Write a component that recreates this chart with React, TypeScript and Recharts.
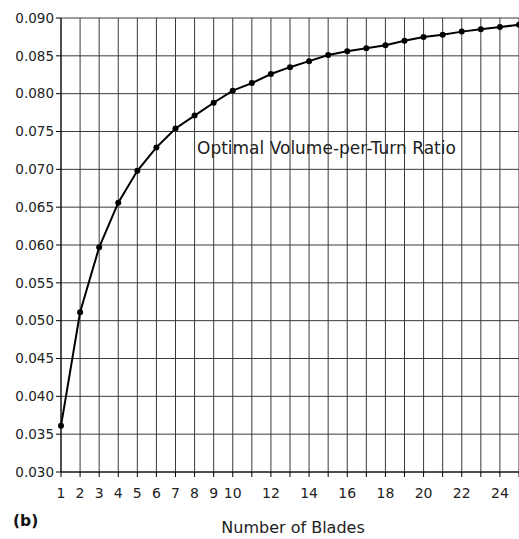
import React from "react";
import { LineChart, Line, XAxis, YAxis, CartesianGrid } from "recharts";

const blades = [1, 2, 3, 4, 5, 6, 7, 8, 9, 10, 11, 12, 13, 14, 15, 16, 17, 18, 19, 20, 21, 22, 23, 24, 25];
const ratio = [
  0.0361, 0.0511, 0.0597, 0.0656, 0.0698, 0.0729, 0.0754, 0.0771, 0.0788, 0.0804,
  0.0814, 0.0826, 0.0835, 0.0843, 0.0851, 0.0856, 0.086, 0.0864, 0.087, 0.0875,
  0.0878, 0.0882, 0.0885, 0.0888, 0.0891,
];
const xLabels = [1, 2, 3, 4, 5, 6, 7, 8, 9, 10, 12, 14, 16, 18, 20, 22, 24];
const yTicks = [0.03, 0.035, 0.04, 0.045, 0.05, 0.055, 0.06, 0.065, 0.07, 0.075, 0.08, 0.085, 0.09];

const data = blades.map((b, i) => ({ b, v: ratio[i] }));

const font = "'DejaVu Sans', sans-serif";

export default function App() {
  return (
    <div style={{ position: "absolute", left: 0, top: 0, width: 519, height: 539, background: "#fff", overflow: "hidden" }}>
      <LineChart width={519} height={539} data={data} margin={{ top: 18, right: 0, left: 0, bottom: 0 }}>
        <CartesianGrid stroke="#3a3a3a" strokeWidth={1} />
        <XAxis
          dataKey="b"
          type="number"
          domain={[1, 25]}
          ticks={blades}
          interval={0}
          height={67}
          tickSize={5}
          tickMargin={11}
          stroke="#000"
          tick={{ fill: "#222", fontSize: 14, fontFamily: font }}
          tickFormatter={(t: number) => (xLabels.includes(t) ? String(t) : "")}
        />
        <YAxis
          type="number"
          domain={[0.03, 0.09]}
          ticks={yTicks}
          interval={0}
          width={61}
          tickSize={5}
          tickMargin={2}
          stroke="#000"
          tick={{ fill: "#222", fontSize: 13.5, fontFamily: font }}
          tickFormatter={(t: number) => t.toFixed(3)}
        />
        <Line
          type="linear"
          dataKey="v"
          stroke="#000"
          strokeWidth={2}
          dot={{ r: 3, fill: "#000", stroke: "#000", strokeWidth: 0 }}
          isAnimationActive={false}
        />
      </LineChart>
      <svg width={519} height={539} style={{ position: "absolute", left: 0, top: 0, pointerEvents: "none" }}>
        <text x={197} y={154} fontFamily={font} fontSize={17} fill="#222">
          Optimal Volume-per-Turn Ratio
        </text>
        <text x={13} y={526} fontFamily={font} fontSize={15.5} fontWeight="bold" fill="#111">
          (b)
        </text>
        <text x={293} y={533} fontFamily={font} fontSize={16} fill="#222" textAnchor="middle">
          Number of Blades
        </text>
      </svg>
    </div>
  );
}
